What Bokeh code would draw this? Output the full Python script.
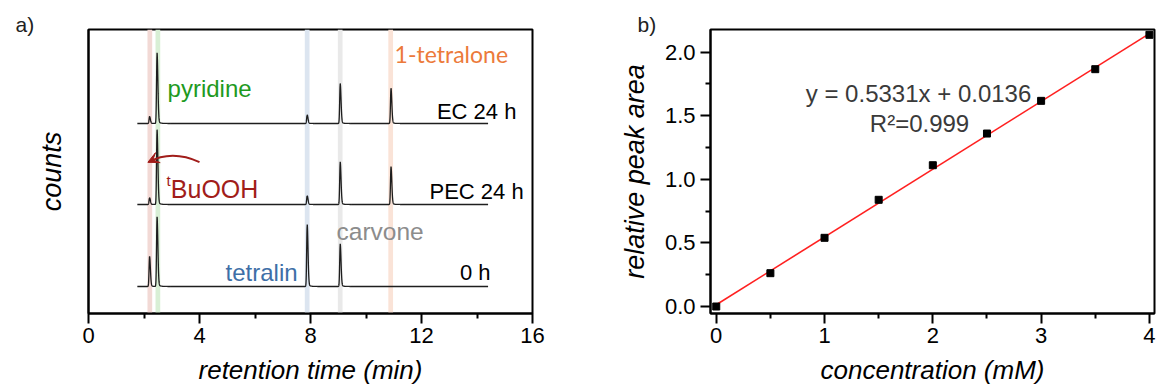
import numpy as np
from bokeh.plotting import figure
from bokeh.layouts import row
from bokeh.models import Range1d, FixedTicker, Label, Arrow, VeeHead, PrintfTickFormatter, Title
from bokeh.embed import file_html
from bokeh.resources import INLINE

# ---------------- panel a data ----------------
compounds = ["tBuOOH", "pyridine", "tetralin", "carvone", "1-tetralone"]
retention_times = [2.20, 2.47, 7.88, 9.07, 10.90]
band_times = [2.21, 2.50, 7.88, 9.07, 10.89]
band_colors = ["#f2d9d5", "#d8efd5", "#dce5f0", "#e9e9e9", "#fae3d7"]
trace_names = ["0 h", "PEC 24 h", "EC 24 h"]
heights_0h = [29, 67, 60, 41, 0]
heights_pec = [6.5, 72, 8.5, 41, 36.5]
heights_ec = [6.7, 68, 8.3, 38.5, 34]
trace_offsets = [27, 109, 190]
t_start, t_end = 1.76, 14.4

# ---------------- panel b data ----------------
concentration = [0, 0.5, 1, 1.5, 2, 2.5, 3, 3.5, 4]
rel_area = [0.0, 0.262, 0.540, 0.839, 1.111, 1.360, 1.617, 1.866, 2.136]
slope, intercept = 0.5331, 0.0136
r_squared = "0.999"

FONT = "Liberation Sans"
DARKRED = "#a11d1a"


def style_axis(ax, size="22px"):
    ax.axis_line_width = 2
    ax.axis_line_color = "black"
    ax.major_tick_line_width = 2
    ax.minor_tick_line_width = 2
    ax.major_tick_in = 0
    ax.minor_tick_in = 0
    ax.major_tick_out = 10
    ax.minor_tick_out = 5
    ax.major_label_text_font = FONT
    ax.major_label_text_font_size = size
    ax.major_label_text_color = "black"
    ax.axis_label_text_font = FONT
    ax.axis_label_text_font_size = "26px"
    ax.axis_label_text_font_style = "italic"
    ax.axis_label_text_color = "black"


def panel_title(p, text, offset):
    p.add_layout(Title(text=text, align="left", offset=offset, text_font=FONT,
                       text_font_size="21px", text_font_style="normal",
                       text_color="#222222", standoff=-12), "above")


# ================= panel a =================
p1 = figure(width=600, height=387, x_range=Range1d(0, 16), y_range=Range1d(0, 284),
            output_backend="svg", toolbar_location=None,
            min_border_left=88, min_border_right=68, min_border_top=29, min_border_bottom=74)
p1.grid.visible = False
p1.outline_line_color = "black"
p1.outline_line_width = 2
style_axis(p1.xaxis[0])
p1.xaxis[0].ticker = FixedTicker(ticks=[0, 4, 8, 12, 16], minor_ticks=[2, 6, 10, 14])
p1.xaxis[0].major_label_standoff = 4
p1.xaxis[0].axis_label = "retention time (min)"
p1.xaxis[0].axis_label_standoff = 9
style_axis(p1.yaxis[0])
p1.yaxis[0].ticker = FixedTicker(ticks=[])
p1.yaxis[0].major_label_text_font_size = "0px"
p1.yaxis[0].axis_label = "counts"
p1.yaxis[0].axis_label_text_font_size = "27px"
p1.yaxis[0].axis_label_standoff = 22
panel_title(p1, "a)", -73)

# shaded bands
p1.vbar(x=band_times, width=0.17, bottom=0, top=284, fill_color=band_colors, line_color=None)

# chromatograms
t = np.arange(t_start, t_end, 0.003)
for heights, off in zip([heights_0h, heights_pec, heights_ec], trace_offsets):
    y = np.zeros_like(t)
    for t0, h in zip(retention_times, heights):
        sig = np.where(t < t0, 0.018, 0.03)
        y += h * np.exp(-0.5 * ((t - t0) / sig) ** 2)
        y += 0.04 * h * np.exp(-np.clip(t - t0, 0, None) / 0.08) * (t > t0)
    p1.line(t, y + off, line_color="#1e1e1e", line_width=1.3)

# curved arrow
p1.quadratic(x0=[4.0], y0=[151.3], x1=[2.16], y1=[151.3], cx=[3.0], cy=[164],
             line_color=DARKRED, line_width=2)
p1.add_layout(Arrow(end=VeeHead(size=11, fill_color=DARKRED, line_color=DARKRED, line_width=1),
                    x_start=2.34, y_start=153.8, x_end=2.14, y_end=151.2,
                    line_color=DARKRED, line_width=2))


def lab(p, x, y, text, color="black", size="22px", align="left", baseline="alphabetic",
        style="normal", angle=0, font=FONT):
    p.add_layout(Label(x=x, y=y, text=text, text_color=color, text_font_size=size,
                       text_align=align, text_baseline=baseline, text_font_style=style,
                       angle=angle, text_font=font))


lab(p1, 2.85, 224.7, "pyridine", color="#1f9a1f", size="24px")
lab(p1, 11.03, 259.7, "1-tetralone", color="#ec7a3a", font="Lato", size="23px")
lab(p1, 15.42, 202.3, trace_names[2], align="right")
lab(p1, 15.68, 122, trace_names[1], align="right")
lab(p1, 14.49, 41.3, trace_names[0], align="right")
lab(p1, 2.81, 133, "t", color=DARKRED, size="15px")
lab(p1, 2.966, 124.7, "BuOOH", color=DARKRED, size="25px")
lab(p1, 8.94, 82.3, "carvone", color="#8c8c8c", size="24.5px")
lab(p1, 4.94, 41.3, "tetralin", color="#3e6fa7", size="24px")

# ================= panel b =================
p2 = figure(width=557, height=387, x_range=Range1d(-0.053, 4.047), y_range=Range1d(-0.055, 2.178),
            output_backend="svg", toolbar_location=None,
            min_border_left=110, min_border_right=3, min_border_top=29, min_border_bottom=74)
p2.grid.visible = False
p2.outline_line_color = "black"
p2.outline_line_width = 2
style_axis(p2.xaxis[0])
style_axis(p2.yaxis[0])
p2.xaxis[0].ticker = FixedTicker(ticks=[0, 1, 2, 3, 4], minor_ticks=[0.5, 1.5, 2.5, 3.5])
p2.yaxis[0].ticker = FixedTicker(ticks=[0, 0.5, 1.0, 1.5, 2.0],
                                 minor_ticks=[0.25, 0.75, 1.25, 1.75])
p2.yaxis[0].formatter = PrintfTickFormatter(format="%.1f")
p2.xaxis[0].major_label_standoff = 4
p2.yaxis[0].major_label_standoff = 5
p2.xaxis[0].axis_label = "concentration (mM)"
p2.xaxis[0].axis_label_standoff = 9
p2.yaxis[0].axis_label = "relative peak area"
p2.yaxis[0].axis_label_text_font_size = "27px"
p2.yaxis[0].axis_label_standoff = 12
panel_title(p2, "b)", -73)

fx = np.array([concentration[0], concentration[-1]])
p2.line(fx, slope * fx + intercept, line_color="#ff2020", line_width=1.6)
p2.scatter(concentration, rel_area, marker="square", size=7, fill_color="black", line_color="black")

lab(p2, 1.868, 1.672, f"y = {slope}x + {intercept}", align="center", color="#3a3a3a", size="24px")
lab(p2, 1.877, 1.436, f"R\u00b2={r_squared}", align="center", color="#3a3a3a", size="24px")

layout = row(p1, p2)
open("out.html", "w").write(file_html(layout, INLINE))
